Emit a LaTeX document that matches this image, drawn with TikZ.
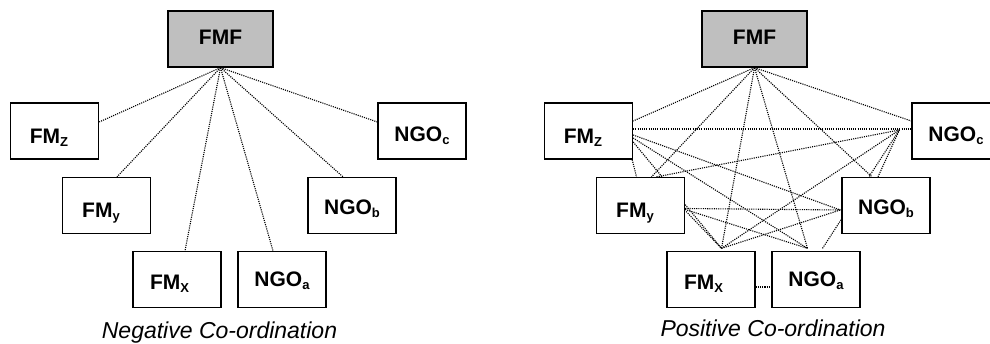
\documentclass[tikz,border=0pt]{standalone}
\usepackage{fontspec}
\setmainfont{Liberation Sans}
\usetikzlibrary{calc,backgrounds}
% small lowered index after an acronym
\newcommand\subsc[1]{\raisebox{-2.5pt}{\fontsize{13}{13}\selectfont #1}}
\begin{document}
\begin{tikzpicture}[x=1pt,y=-1pt,
  unit/.style={draw, line width=1.3pt, fill=white, minimum width=88pt,
    minimum height=56pt, inner sep=0pt,
    font=\fontsize{21}{21}\selectfont\bfseries, text depth=0pt},
  fund/.style={unit, fill=black!25, minimum width=105pt},
  link/.style={line width=1.1pt, black, dash pattern=on 1.1pt off 1.1pt},
  caption/.style={font=\fontsize{23}{23}\selectfont\itshape, anchor=base}]
\useasboundingbox (0,0) rectangle (990,344);
\clip (0,0) rectangle (990,344);

% ---------- negative co-ordination: every unit talks only to the fund
\node[fund, text height=12pt] (Lf) at (220.5,39) {FMF};
\node[unit, text height=26pt] (Lz) at (54.5,131) {FM\subsc{Z}\kern11pt};
\node[unit, text height=25pt] (Ly) at (106.5,205.5) {FM\subsc{y}\kern11pt};
\node[unit, text height=21pt] (Lx) at (177,279.5) {FM\subsc{X}\kern15pt};
\node[unit, text height=15pt] (La) at (282,279.5) {NGO\subsc{a}};
\node[unit, text height=19pt] (Lb) at (352,205.5) {NGO\subsc{b}};
\node[unit, text height=22pt] (Lc) at (422,131) {NGO\subsc{c}};
\node[caption] (Lcap) at (219.5,338) {Negative Co-ordination};

\begin{pgfonlayer}{background}
\draw[link] (Lf.south) -- ($(Lz.east)+(0,-9)$);
\draw[link] (Lf.south) -- ($(Ly.north)+(10.5,0)$);
\draw[link] (Lf.south) -- ($(Lx.north)+(8,0)$);
\draw[link] (Lf.south) -- ($(La.north)+(-9,0)$);
\draw[link] (Lf.south) -- ($(Lb.north)+(-9,0)$);
\draw[link] (Lf.south) -- ($(Lc.west)+(0,-9)$);
\end{pgfonlayer}

% ---------- positive co-ordination: every unit talks to every other
\node[fund, text height=12pt] (Rf) at (754.5,39) {FMF};
\node[unit, text height=26pt] (Rz) at (588.5,131) {FM\subsc{Z}\kern11pt};
\node[unit, text height=25pt] (Ry) at (640.5,205.5) {FM\subsc{y}\kern11pt};
\node[unit, text height=21pt] (Rx) at (711,279.5) {FM\subsc{X}\kern15pt};
\node[unit, text height=15pt] (Ra) at (816,279.5) {NGO\subsc{a}};
\node[unit, text height=19pt] (Rb) at (886,205.5) {NGO\subsc{b}};
\node[unit, text height=22pt] (Rc) at (956,131) {NGO\subsc{c}};
\node[caption] (Rcap) at (773,337) {Positive Co-ordination};

% meeting points of several links just outside a box
\coordinate (xhub) at ($(Rx.north)+(10.5,-2.5)$);
\coordinate (ahub) at ($(Ra.north)+(-8.5,-2.5)$);
\coordinate (bhub) at ($(Rb.west)+(-1,4.5)$);
\coordinate (chub) at ($(Rc.west)+(-12,-1)$);

\begin{pgfonlayer}{background}
% fund to each unit
\draw[link] (Rf.south) -- ($(Rz.east)+(0,-10)$);
\draw[link] (Rf.south) -- ($(Ry.north)+(11,0)$);
\draw[link] (Rf.south) -- (xhub);
\draw[link] (Rf.south) -- (ahub);
\draw[link] (Rf.south) -- ($(Rb.north)+(-14,0)$);
\draw[link] (Rf.south) -- ($(Rc.west)+(0,-10)$);
% FM Z
\draw[link] ($(Rz.south east)+(-1,0)$) -- ($(Ry.north)+(-4,0)$);
\draw[link] ($(Rz.east)+(0,-2)$) -- ($(Rc.west)+(0,-2)$);
\draw[link] ($(Rz.east)+(0,4)$) -- (bhub);
\draw[link] ($(Rz.east)+(0,7)$) -- (ahub);
\draw[link] ($(Rz.east)+(0,11)$) -- (xhub);
% FM y
\draw[link] ($(Ry.north)+(16,0)$) -- (chub);
\draw[link] ($(Ry.east)+(0,3)$) -- (bhub);
\draw[link] ($(Ry.east)+(0,4)$) -- (ahub);
\draw[link] ($(Ry.east)+(1,6)$) -- (xhub);
% FM X
\draw[link] (xhub) -- (bhub);
\draw[link] (xhub) -- (chub);
\draw[link] ($(Rx.east)+(0,7.5)$) -- ($(Ra.west)+(0,7.5)$);
% NGOs
\draw[link] ($(Ra.north)+(6.5,-2.5)$) -- (chub);
\draw[link] ($(Rb.north)+(-8,0)$) -- (chub);
\end{pgfonlayer}
\end{tikzpicture}
\end{document}
